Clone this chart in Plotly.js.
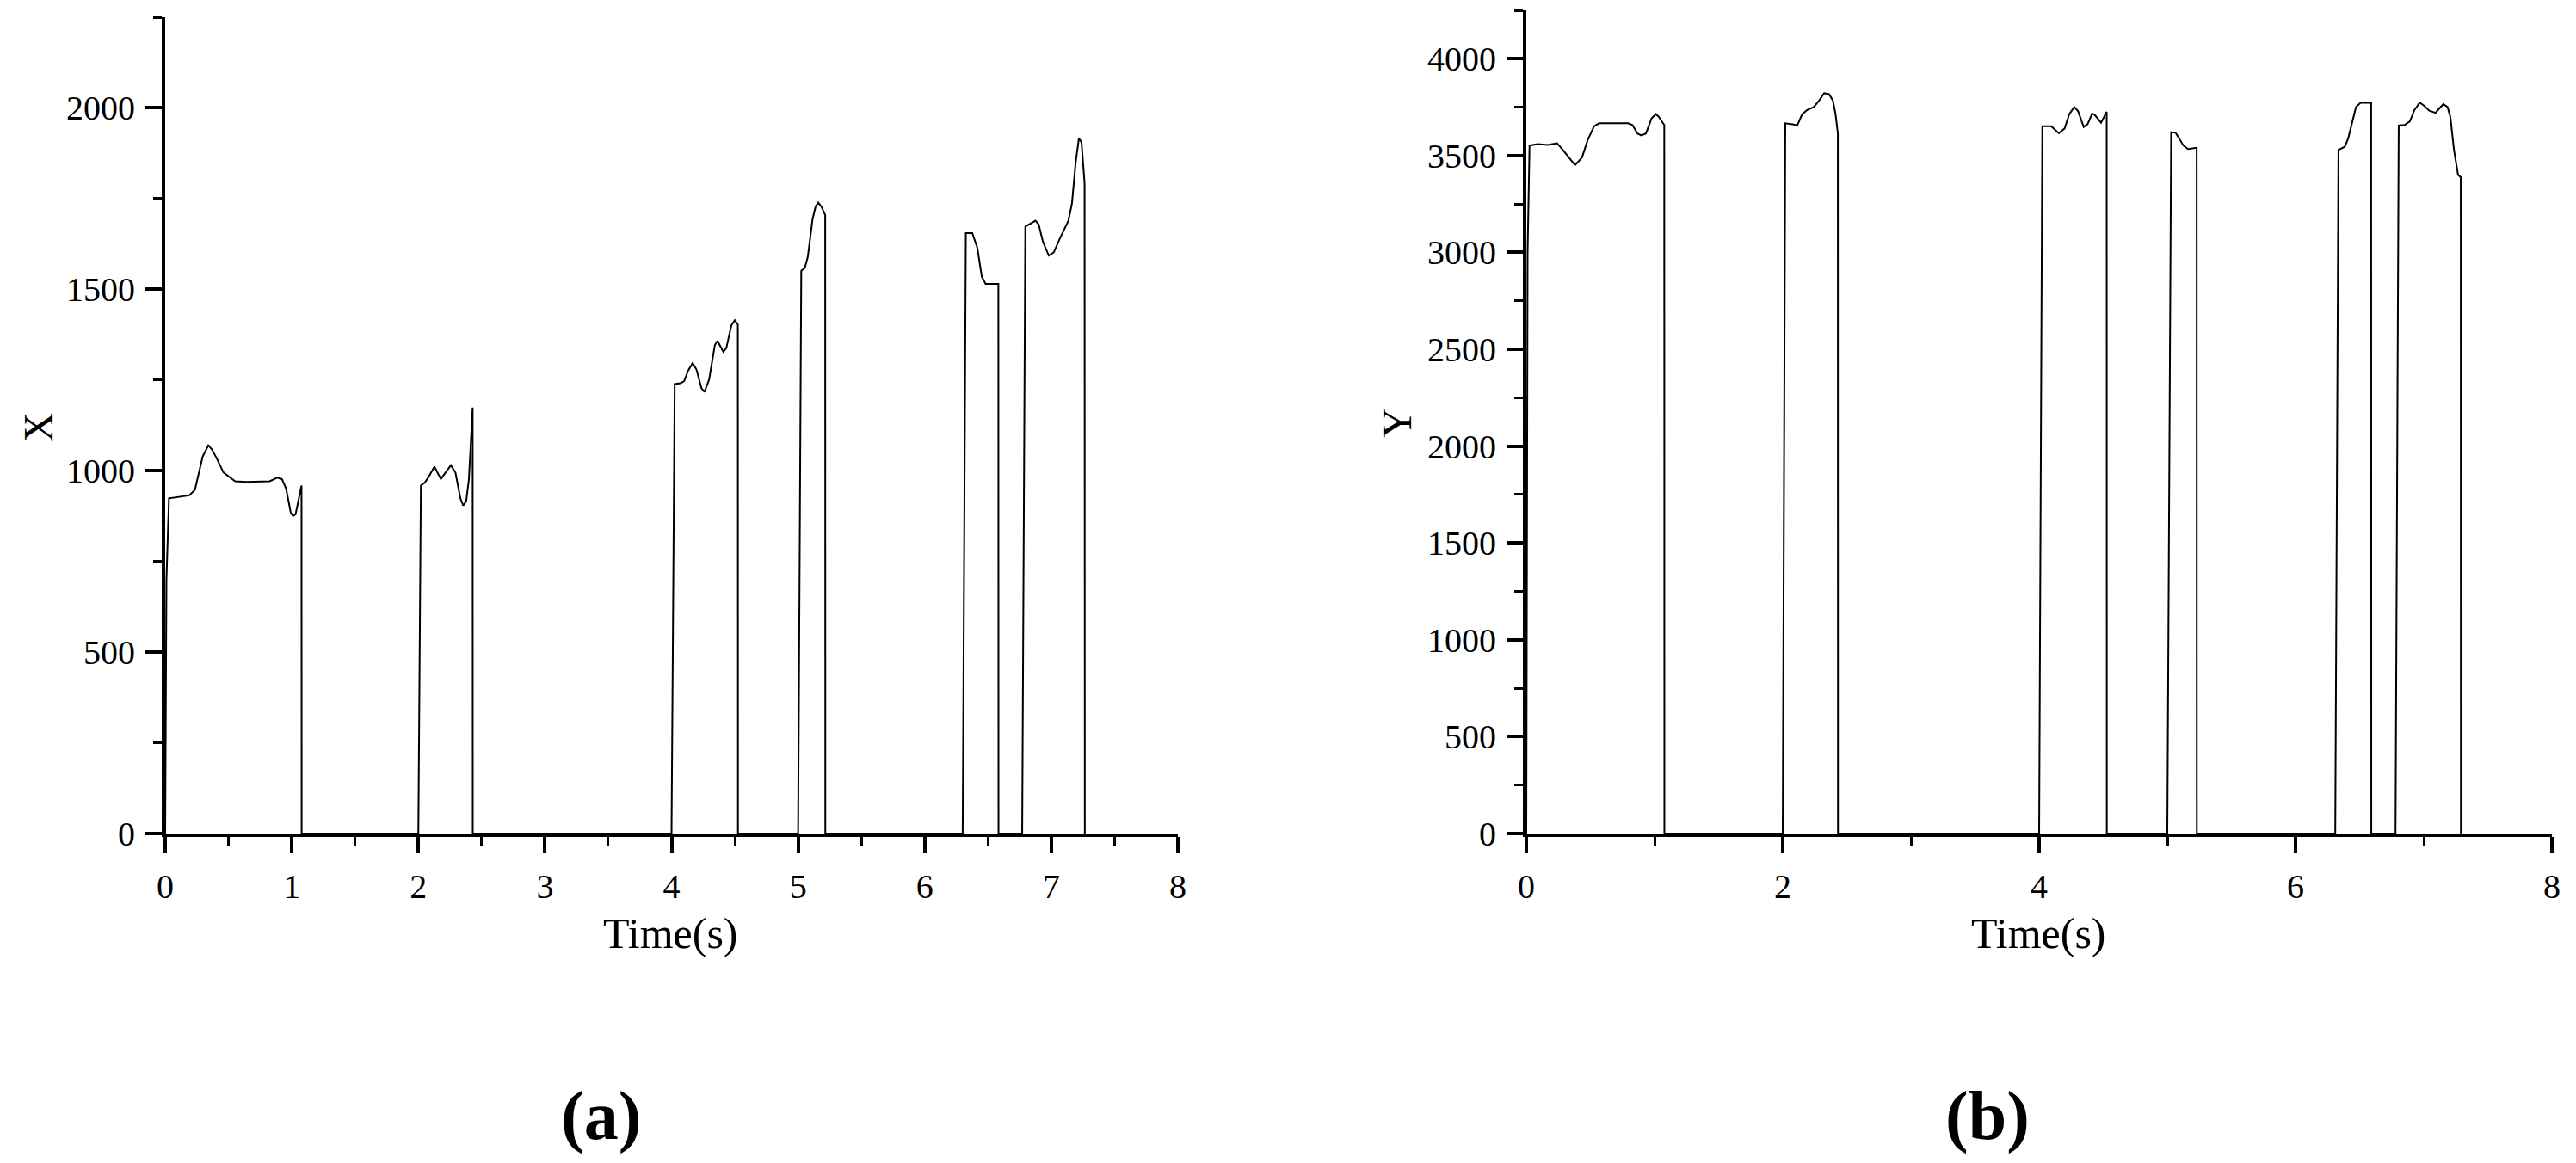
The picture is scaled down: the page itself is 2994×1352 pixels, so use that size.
<!DOCTYPE html>
<html>
<head>
<meta charset="utf-8">
<script src="https://cdn.plot.ly/plotly-3.0.1.min.js"></script>
<style>
  html, body { margin: 0; padding: 0; background: #fff; }
  #chart { width: 2994px; height: 1352px; }
</style>
</head>
<body>
<div id="chart"></div>
<script>
// panel (a): X position over time
var timeX = [0, 0.01, 0.03, 0.19, 0.235, 0.296, 0.341, 0.371, 0.407, 0.461, 0.553, 0.644, 0.825, 0.885, 0.922, 0.955, 0.992, 1.01, 1.03, 1.077, 1.078,
  2.0, 2.02, 2.051, 2.081, 2.127, 2.178, 2.257, 2.293, 2.332, 2.354, 2.378, 2.399, 2.414, 2.429, 2.43,
  4.0, 4.025, 4.07, 4.1, 4.13, 4.167, 4.197, 4.236, 4.26, 4.297, 4.342, 4.363, 4.409, 4.433, 4.473, 4.5, 4.524, 4.525,
  5.0, 5.025, 5.053, 5.077, 5.114, 5.138, 5.159, 5.184, 5.214, 5.215,
  6.3, 6.325, 6.376, 6.416, 6.451, 6.481, 6.582, 6.583,
  6.77, 6.795, 6.84, 6.875, 6.9, 6.935, 6.98, 7.02, 7.065, 7.135, 7.163, 7.193, 7.218, 7.239, 7.263, 7.265];
var valX = [0, 700, 924, 932, 947, 1039, 1070, 1058, 1034, 995, 971, 969, 971, 981, 977, 951, 884, 875, 880, 959, 0,
  0, 959, 967, 983, 1011, 977, 1015, 995, 924, 904, 916, 975, 1078, 1174, 0,
  0, 1239, 1241, 1247, 1275, 1297, 1279, 1228, 1217, 1251, 1346, 1358, 1328, 1338, 1401, 1415, 1403, 0,
  0, 1551, 1559, 1590, 1693, 1728, 1739, 1728, 1705, 0,
  0, 1655, 1655, 1614, 1535, 1515, 1515, 0,
  0, 1673, 1681, 1689, 1679, 1630, 1593, 1602, 1638, 1689, 1736, 1851, 1916, 1905, 1792, 0];

// panel (b): Y position over time
var timeY = [0, 0.01, 0.025, 0.09, 0.165, 0.24, 0.284, 0.329, 0.38, 0.434, 0.479, 0.529, 0.568, 0.793, 0.828, 0.867, 0.897, 0.933, 0.977, 1.011, 1.031, 1.076, 1.077,
  2.0, 2.02, 2.078, 2.113, 2.152, 2.191, 2.242, 2.28, 2.323, 2.361, 2.391, 2.412, 2.43, 2.431,
  4.0, 4.025, 4.094, 4.154, 4.199, 4.235, 4.274, 4.304, 4.348, 4.378, 4.414, 4.438, 4.483, 4.527, 4.528,
  5.0, 5.03, 5.064, 5.092, 5.125, 5.161, 5.229, 5.23,
  6.31, 6.335, 6.384, 6.411, 6.452, 6.472, 6.507, 6.59, 6.591,
  6.78, 6.805, 6.851, 6.892, 6.928, 6.969, 7.002, 7.043, 7.092, 7.125, 7.153, 7.186, 7.208, 7.236, 7.268, 7.289, 7.29];
var valY = [0, 3000, 3552, 3559, 3555, 3564, 3530, 3493, 3451, 3490, 3581, 3652, 3667, 3667, 3658, 3614, 3604, 3614, 3692, 3714, 3702, 3658, 0,
  0, 3667, 3662, 3655, 3714, 3736, 3751, 3781, 3822, 3817, 3785, 3714, 3614, 0,
  0, 3652, 3652, 3615, 3640, 3714, 3751, 3729, 3648, 3662, 3717, 3707, 3670, 3726, 0,
  0, 3621, 3618, 3589, 3552, 3534, 3540, 0,
  0, 3530, 3545, 3589, 3699, 3751, 3773, 3773, 0,
  0, 3655, 3658, 3677, 3736, 3773, 3758, 3732, 3721, 3746, 3766, 3751, 3699, 3530, 3400, 3389, 0];

var xTicksA = [0, 1, 2, 3, 4, 5, 6, 7, 8];
var yTicksA = [0, 500, 1000, 1500, 2000];
var xTicksB = [0, 2, 4, 6, 8];
var yTicksB = [0, 500, 1000, 1500, 2000, 2500, 3000, 3500, 4000];

var W = 2994, H = 1352;
var tickFont = {family: 'Liberation Serif, serif', size: 40, color: '#000'};

function px(x) { return x / W; }
function py(y) { return 1 - y / H; }

function makeAxis(dom, range, ticks, minorStep, anchor) {
  return {
    domain: dom,
    range: range,
    anchor: anchor,
    tickmode: 'array',
    tickvals: ticks,
    ticktext: ticks.map(String),
    showgrid: false,
    zeroline: false,
    showline: true,
    linecolor: '#000',
    linewidth: 4,
    layer: 'above traces',
    ticks: 'outside',
    ticklen: 19,
    tickwidth: 4,
    tickcolor: '#000',
    ticklabelstandoff: 4,
    tickfont: tickFont,
    minor: {dtick: minorStep, tick0: 0, ticks: 'outside', ticklen: 10, tickwidth: 3, tickcolor: '#000', showgrid: false},
    fixedrange: true
  };
}

function label(text, x, y, size, bold, angle) {
  return {
    xref: 'paper', yref: 'paper',
    x: px(x), y: py(y),
    xanchor: 'center', yanchor: 'middle',
    showarrow: false,
    textangle: angle || 0,
    text: bold ? '<b>' + text + '</b>' : text,
    font: {family: 'Liberation Serif, serif', size: size, color: '#000'}
  };
}

var traceA = {
  x: timeX, y: valX,
  xaxis: 'x', yaxis: 'y',
  type: 'scatter', mode: 'lines',
  line: {color: '#000', width: 2},
  hoverinfo: 'skip'
};

var traceB = {
  x: timeY, y: valY,
  xaxis: 'x2', yaxis: 'y2',
  type: 'scatter', mode: 'lines',
  line: {color: '#000', width: 2},
  hoverinfo: 'skip'
};

// plot edges sit half a line width inside the drawn axis lines
var bottom = py(969);

var layout = {
  width: W,
  height: H,
  margin: {l: 0, r: 0, t: 0, b: 0},
  paper_bgcolor: '#fff',
  plot_bgcolor: '#fff',
  showlegend: false,
  xaxis: makeAxis([px(192), px(1369)], [0, 8], xTicksA, 0.5, 'y'),
  yaxis: makeAxis([bottom, py(20)], [0, 2250], yTicksA, 250, 'x'),
  xaxis2: makeAxis([px(1774), px(2966)], [0, 8], xTicksB, 1, 'y2'),
  yaxis2: makeAxis([bottom, py(12)], [0, 4250], yTicksB, 250, 'x2'),
  annotations: [
    label('Time(s)', 779, 1085, 50, false, 0),
    label('Time(s)', 2369, 1085, 50, false, 0),
    label('X', 44, 497, 48, false, -90),
    label('Y', 1624, 491, 48, false, -90),
    label('(a)', 698, 1297, 80, true, 0),
    label('(b)', 2310, 1297, 80, true, 0)
  ]
};

Plotly.newPlot('chart', [traceA, traceB], layout, {staticPlot: true, displayModeBar: false});
</script>
</body>
</html>
